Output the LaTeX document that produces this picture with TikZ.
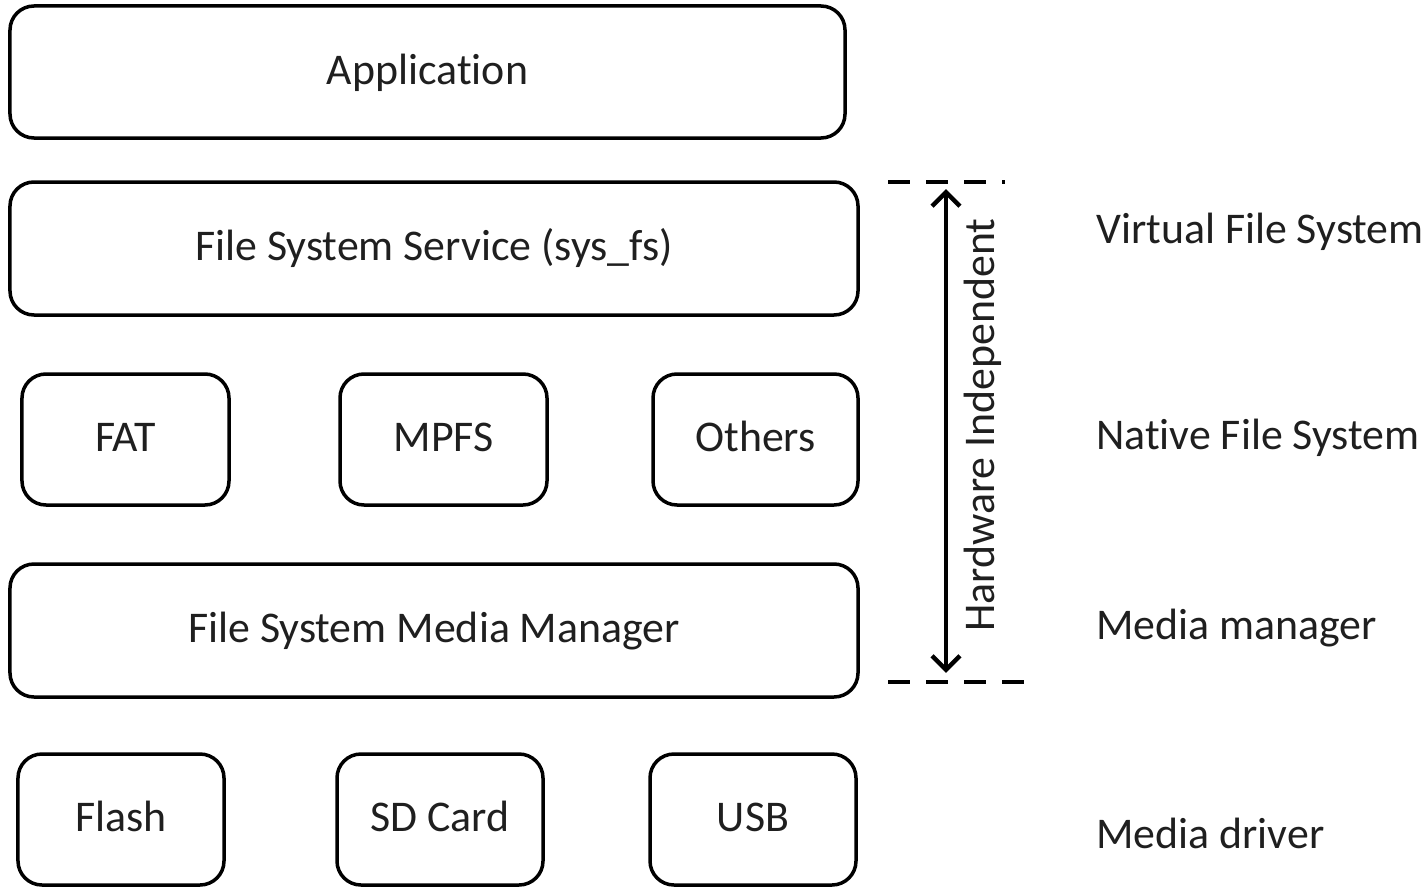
\documentclass[tikz,border=0pt]{standalone}
\usepackage{fontspec}
\setmainfont[Ligatures=NoCommon]{Carlito}
\usetikzlibrary{arrows.meta}
\begin{document}
\begin{tikzpicture}[x=1bp,y=-1bp,
  txt/.style={font=\fontsize{44}{48}\selectfont,text=black!88},
  box/.style={draw=black,line width=3.5bp,rounded corners=24bp,inner sep=0pt,txt,
    text height=30bp,text depth=6bp},
  lbl/.style={anchor=west,inner sep=0pt,txt},
  dashline/.style={line width=3.5bp,dash pattern=on 22bp off 16bp}]
\useasboundingbox (0,0) rectangle (1427,887);
\node[box,minimum width=835bp,minimum height=132bp] (app) at (427.5,72) {Application};
\node[box,minimum width=848bp,minimum height=133bp] (fss) at (434,248.5) {File System Service (sys\_fs)};
\node[box,minimum width=207bp,minimum height=131bp] (fat) at (125.5,439.5) {FAT};
\node[box,minimum width=207bp,minimum height=131bp] (mpfs) at (443.5,439.5) {MPFS};
\node[box,minimum width=205bp,minimum height=131bp] (oth) at (755.5,439.5) {Others};
\node[box,minimum width=848bp,minimum height=133bp] (fsmm) at (434,630.5) {File System Media Manager};
\node[box,minimum width=206bp,minimum height=131bp] (flash) at (121,819.5) {Flash};
\node[box,minimum width=206bp,minimum height=131bp] (sd) at (440,819.5) {SD Card};
\node[box,minimum width=206bp,minimum height=131bp] (usb) at (753,819.5) {USB};
\coordinate (t1) at (888,182);
\coordinate (t2) at (1005,182);
\coordinate (b1) at (888,682);
\coordinate (b2) at (1027,682);
\coordinate (at) at (946,189);
\coordinate (ab) at (946,673);
\draw[dashline] (t1) -- (t2);
\draw[dashline] (b1) -- (b2);
\draw[line width=4.5bp,{Straight Barb[length=14bp,width=28bp,line width=4.5bp]}-{Straight Barb[length=14bp,width=28bp,line width=4.5bp]}] (at) -- (ab);
\node[rotate=90,inner sep=0pt,txt] (hw) at (983,425) {Hardware Independent};
\node[lbl] (vfs) at (1096,232) {Virtual File System};
\node[lbl] (nfs) at (1096,438) {Native File System};
\node[lbl] (mm) at (1096,628) {Media manager};
\node[lbl] (md) at (1096,833) {Media driver};
\end{tikzpicture}
\end{document}
